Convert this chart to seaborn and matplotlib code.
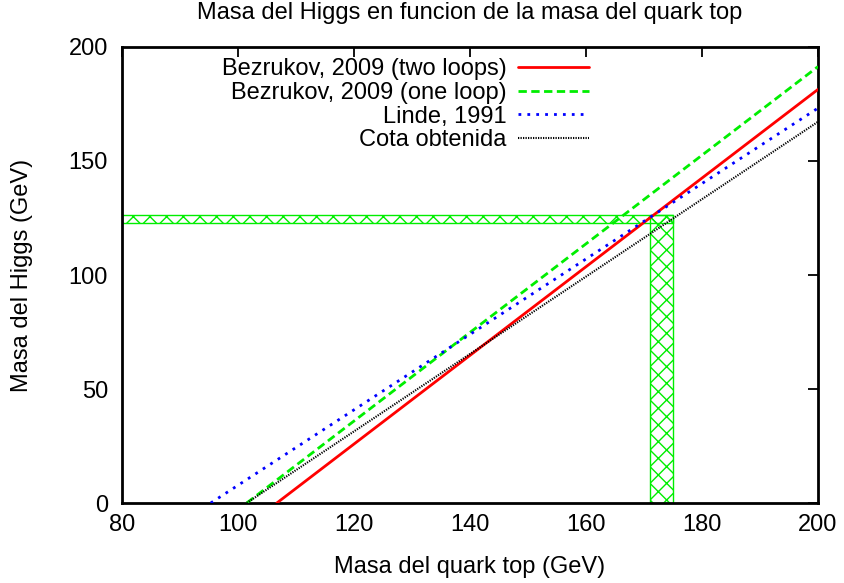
import matplotlib
matplotlib.use("Agg")
import matplotlib.pyplot as plt
import seaborn as sns
import pandas as pd

# Higgs mass vs top-quark mass: straight-line bounds given by their end points
labels = ["Bezrukov, 2009 (two loops)", "Bezrukov, 2009 (one loop)", "Linde, 1991", "Cota obtenida"]
mt_start = [106.7, 101.5, 95.3, 101.5]
mt_end = [200.0, 200.0, 200.0, 200.0]
mh_start = [0.0, 0.0, 0.0, 0.0]
mh_end = [181.4, 191.4, 173.2, 167.2]

# Measured Higgs mass band and top-quark mass band
higgs_band = [123.0, 126.5]
top_band = [171.0, 175.0]

x_ticks = [80, 100, 120, 140, 160, 180, 200]
y_ticks = [0, 50, 100, 150, 200]

colors = ["#ff0000", "#00ee00", "#0000ff", "#000000"]
styles = ["-", (0, (3, 1.6)), (0, (1, 2.2)), (0, (0.6, 0.6))]
widths = [2.0, 2.0, 2.0, 1.5]

FS = 17

sns.set_style("white")
plt.rcParams["font.family"] = ["Liberation Sans", "DejaVu Sans"]
plt.rcParams["hatch.linewidth"] = 1.0
plt.rcParams["text.color"] = "black"
plt.rcParams["axes.labelcolor"] = "black"

fig = plt.figure(figsize=(8.44, 5.83), dpi=100)
ax = fig.add_axes([0.1445, 0.1372, 0.8247, 0.7822])

rows = []
for lab, x0, x1, y0, y1 in zip(labels, mt_start, mt_end, mh_start, mh_end):
    rows.append({"serie": lab, "mt": x0, "mh": y0})
    rows.append({"serie": lab, "mt": x1, "mh": y1})
df = pd.DataFrame(rows)

for lab, c, ls, lw in zip(labels, colors, styles, widths):
    sns.lineplot(data=df[df["serie"] == lab], x="mt", y="mh", color=c,
                 linestyle=ls, linewidth=lw, label=lab, ax=ax, zorder=3)

# hatched bands
ax.fill_between([x_ticks[0], top_band[1]], higgs_band[0], higgs_band[1],
                facecolor="none", edgecolor="#00ee00", hatch="xx", linewidth=1.0, zorder=2)
ax.fill_betweenx([0, higgs_band[1]], top_band[0], top_band[1],
                 facecolor="none", edgecolor="#00ee00", hatch="xx", linewidth=1.0, zorder=2)

ax.set_xlim(80, 200)
ax.set_ylim(0, 200)
ax.set_xticks(x_ticks)
ax.set_yticks(y_ticks)
ax.tick_params(direction="in", length=7, width=1.3, top=True, right=True,
               labelsize=FS, colors="black", labelcolor="black")
ax.tick_params(axis="x", pad=8)
ax.tick_params(axis="y", pad=10)
for sp in ax.spines.values():
    sp.set_linewidth(2.0)
    sp.set_color("black")

ax.set_xlabel("Masa del quark top (GeV)", fontsize=FS, labelpad=14, color="black")
ax.set_ylabel("Masa del Higgs (GeV)", fontsize=FS, labelpad=26, color="black")
ax.set_title("Masa del Higgs en funcion de la masa del quark top", fontsize=FS, pad=20,
             color="black")

leg = ax.legend(loc="upper right", bbox_to_anchor=(0.671, 0.975), markerfirst=False,
                frameon=False, fontsize=FS, handlelength=3.0, handletextpad=0.5,
                labelspacing=0.07, borderaxespad=0, borderpad=0)
for t in leg.get_texts():
    t.set_color("black")

fig.savefig("out.png", dpi=100)
